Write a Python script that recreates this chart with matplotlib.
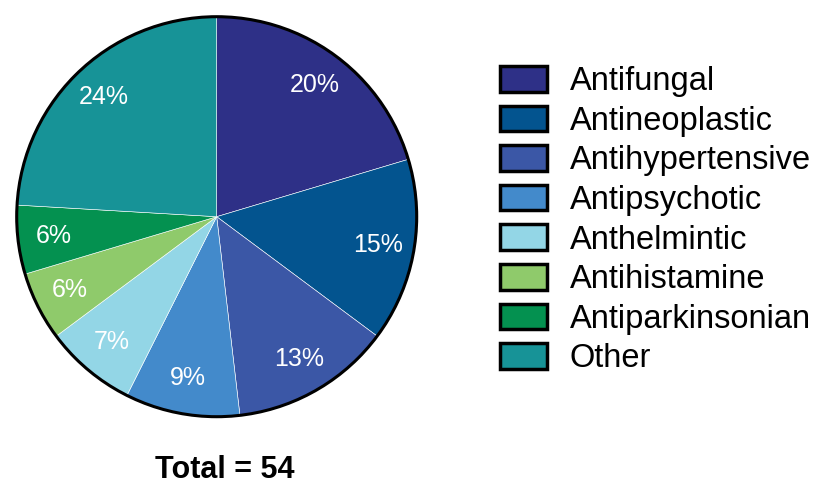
import matplotlib
matplotlib.use("Agg")
import matplotlib.pyplot as plt
from matplotlib.patches import Patch, Circle

plt.rcParams['font.family'] = ['Liberation Sans', 'DejaVu Sans']

categories = ["Antifungal", "Antineoplastic", "Antihypertensive", "Antipsychotic",
              "Anthelmintic", "Antihistamine", "Antiparkinsonian", "Other"]
counts = [11, 8, 7, 5, 4, 3, 3, 13]
colors = ["#2e3087", "#03548f", "#3b57a6", "#438acb",
          "#93d6e6", "#8fca6b", "#049150", "#179397"]
total_label = "Total = 54"

W, H = 814, 487
fig = plt.figure(figsize=(W / 100, H / 100), dpi=100)

cx, cy, r = 216.7, 216.7, 202
ax = fig.add_axes([(cx - r) / W, (H - cy - r) / H, 2 * r / W, 2 * r / H])
wedges, texts, autotexts = ax.pie(
    counts, colors=colors, startangle=90, counterclock=False,
    autopct=lambda p: f"{p:.0f}%", pctdistance=0.82, radius=1,
    wedgeprops=dict(edgecolor="white", linewidth=0.4),
    textprops=dict(color="white", fontsize=18))
ax.add_patch(Circle((0, 0), 1, fill=False, edgecolor="black", linewidth=2.2, zorder=5))
ax.set_xlim(-1.01, 1.01)
ax.set_ylim(-1.01, 1.01)
ax.set_aspect("equal")
ax.axis("off")

handles = [Patch(facecolor=c, edgecolor="black", linewidth=2.5) for c in colors]
fig.legend(handles, categories, loc="upper left",
           bbox_to_anchor=(500 / W, 1 - 66 / H), frameon=False, fontsize=23.5,
           handlelength=1.44, handleheight=0.83, handletextpad=0.7,
           labelspacing=0.26, borderpad=0, borderaxespad=0)

fig.text(225 / W, 1 - 470 / H, total_label, ha="center", va="center",
         fontsize=22, fontweight="bold")

fig.savefig("out.png", dpi=100)
